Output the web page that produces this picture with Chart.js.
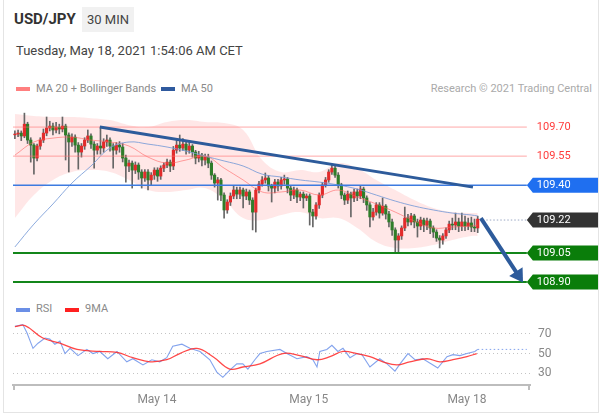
<!DOCTYPE html>
<html><head><meta charset="utf-8">
<script src="https://cdn.jsdelivr.net/npm/chart.js@4"></script>
<style>
html,body{margin:0;padding:0;background:#fff;}
body{width:603px;height:414px;position:relative;overflow:hidden;font-family:Roboto,"Liberation Sans",Arial,sans-serif;}
.card{position:absolute;left:3px;top:-1px;width:594px;height:412px;border:1px solid #e4e4e4;}
.abs{position:absolute;white-space:nowrap;line-height:1.172;}
#pair{left:14px;top:11px;font-size:15px;font-weight:bold;color:#333;}
#tf{left:82px;top:7px;width:52px;height:25px;background:#f1f1f1;font-size:13px;color:#444;line-height:25px;text-align:center;}
#date{left:16px;top:43px;font-size:13px;color:#444;}
.sw{position:absolute;height:4px;width:14px;}
.lg{font-size:11px;color:#8a8a8a;}
#main{position:absolute;left:0;top:105px;}
#rsi{position:absolute;left:0;top:300px;}
</style></head>
<body>
<div class="card"></div>
<div class="abs" id="pair">USD/JPY</div>
<div class="abs" id="tf">30 MIN</div>
<div class="abs" id="date">Tuesday, May 18, 2021 1:54:06 AM CET</div>
<div class="sw" style="left:16px;top:87px;background:#ff7f7f"></div>
<div class="abs lg" style="left:36px;top:83px">MA 20 + Bollinger Bands</div>
<div class="sw" style="left:161px;top:87px;background:#2f5a9e"></div>
<div class="abs lg" style="left:181px;top:83px">MA 50</div>
<div class="abs lg" style="right:11px;top:83px;color:#aaa">Research © 2021 Trading Central</div>
<div class="sw" style="left:16px;top:308px;background:#6b8fe6"></div>
<div class="abs lg" style="left:36px;top:303px">RSI</div>
<div class="sw" style="left:65px;top:308px;background:#ff2020"></div>
<div class="abs lg" style="left:85px;top:303px">9MA</div>
<canvas id="main" width="603" height="192"></canvas>
<canvas id="rsi" width="603" height="112"></canvas>
<script>
// ---- price candles (30 min bars, index = bar number) ----
const opens = [109.660,109.664,109.669,109.654,109.715,109.633,109.607,109.540,109.602,109.633,
 109.669,109.695,109.705,109.685,109.700,109.690,109.705,109.659,109.623,109.648,
 109.607,109.571,109.602,109.633,109.654,109.612,109.581,109.602,109.592,109.623,
 109.633,109.602,109.581,109.607,109.597,109.540,109.499,109.514,109.478,109.504,
 109.468,109.437,109.468,109.427,109.452,109.478,109.447,109.488,109.504,109.519,
 109.499,109.581,109.607,109.592,109.612,109.581,109.602,109.571,109.540,109.555,
 109.530,109.545,109.514,109.452,109.411,109.427,109.349,109.272,109.313,109.344,
 109.375,109.354,109.375,109.344,109.365,109.323,109.261,109.375,109.406,109.427,
 109.437,109.396,109.385,109.416,109.396,109.427,109.432,109.385,109.349,109.375,
 109.339,109.354,109.334,109.344,109.261,109.241,109.298,109.349,109.401,109.427,
 109.468,109.488,109.452,109.401,109.349,109.323,109.354,109.334,109.365,109.344,
 109.380,109.334,109.298,109.236,109.261,109.298,109.256,109.292,109.251,109.210,
 109.169,109.117,109.138,109.179,109.230,109.210,109.241,109.210,109.189,109.220,
 109.194,109.215,109.179,109.158,109.127,109.117,109.138,109.169,109.199,109.194,
 109.210,109.189,109.210,109.189,109.205,109.184,109.179];
const highs = [109.680,109.685,109.680,109.772,109.725,109.645,109.615,109.612,109.645,109.690,
 109.752,109.730,109.720,109.725,109.715,109.752,109.715,109.670,109.665,109.660,
 109.620,109.615,109.645,109.685,109.665,109.625,109.615,109.700,109.640,109.659,
 109.645,109.615,109.620,109.625,109.615,109.555,109.530,109.525,109.520,109.515,
 109.480,109.480,109.480,109.465,109.490,109.490,109.500,109.515,109.535,109.530,
 109.600,109.630,109.659,109.640,109.630,109.620,109.610,109.580,109.575,109.565,
 109.560,109.560,109.525,109.460,109.440,109.435,109.360,109.325,109.360,109.395,
 109.390,109.390,109.385,109.380,109.375,109.335,109.385,109.420,109.445,109.463,
 109.450,109.405,109.430,109.430,109.440,109.452,109.440,109.395,109.390,109.385,
 109.365,109.365,109.355,109.355,109.275,109.310,109.360,109.415,109.440,109.480,
 109.504,109.500,109.465,109.410,109.360,109.370,109.365,109.380,109.380,109.395,
 109.390,109.345,109.310,109.280,109.310,109.310,109.334,109.300,109.265,109.225,
 109.180,109.150,109.190,109.287,109.250,109.255,109.250,109.225,109.235,109.230,
 109.230,109.225,109.190,109.170,109.140,109.150,109.180,109.215,109.230,109.256,
 109.230,109.256,109.240,109.230,109.235,109.225,109.240];
const lows = [109.640,109.650,109.630,109.645,109.615,109.519,109.457,109.525,109.585,109.620,
 109.655,109.680,109.660,109.670,109.665,109.675,109.530,109.468,109.600,109.570,
 109.483,109.545,109.585,109.620,109.590,109.488,109.560,109.560,109.570,109.600,
 109.575,109.488,109.560,109.570,109.520,109.416,109.470,109.385,109.460,109.430,
 109.385,109.420,109.375,109.400,109.430,109.420,109.430,109.470,109.490,109.470,
 109.480,109.565,109.575,109.580,109.560,109.565,109.545,109.510,109.520,109.500,
 109.505,109.490,109.430,109.390,109.323,109.320,109.230,109.255,109.295,109.330,
 109.330,109.330,109.282,109.325,109.300,109.169,109.158,109.360,109.395,109.410,
 109.370,109.313,109.360,109.370,109.380,109.405,109.360,109.320,109.330,109.310,
 109.320,109.282,109.320,109.194,109.184,109.225,109.280,109.335,109.390,109.415,
 109.455,109.440,109.385,109.330,109.300,109.305,109.236,109.315,109.320,109.330,
 109.310,109.270,109.184,109.220,109.245,109.230,109.245,109.225,109.185,109.140,
 109.050,109.050,109.120,109.165,109.190,109.195,109.180,109.132,109.170,109.160,
 109.170,109.150,109.130,109.110,109.076,109.095,109.125,109.155,109.170,109.170,
 109.160,109.165,109.165,109.170,109.160,109.160,109.155];
const closes = [109.664,109.669,109.654,109.715,109.633,109.607,109.540,109.602,109.633,109.669,
 109.695,109.705,109.685,109.700,109.690,109.705,109.659,109.623,109.648,109.607,
 109.571,109.602,109.633,109.654,109.612,109.581,109.602,109.592,109.623,109.633,
 109.602,109.581,109.607,109.597,109.540,109.499,109.514,109.478,109.504,109.468,
 109.437,109.468,109.427,109.452,109.478,109.447,109.488,109.504,109.519,109.499,
 109.581,109.607,109.592,109.612,109.581,109.602,109.571,109.540,109.555,109.530,
 109.545,109.514,109.452,109.411,109.427,109.349,109.272,109.313,109.344,109.375,
 109.354,109.375,109.344,109.365,109.323,109.261,109.375,109.406,109.427,109.437,
 109.396,109.385,109.416,109.396,109.427,109.432,109.385,109.349,109.375,109.339,
 109.354,109.334,109.344,109.261,109.241,109.298,109.349,109.401,109.427,109.468,
 109.488,109.452,109.401,109.349,109.323,109.354,109.334,109.365,109.344,109.380,
 109.334,109.298,109.236,109.261,109.298,109.256,109.292,109.251,109.210,109.169,
 109.117,109.138,109.179,109.230,109.210,109.241,109.210,109.189,109.220,109.194,
 109.215,109.179,109.158,109.127,109.117,109.138,109.169,109.199,109.194,109.210,
 109.189,109.210,109.189,109.205,109.184,109.179,109.225];

// ---- indicators read at sampled bars ----
const bandIdx = [0,6,12,18,24,30,36,42,48,54,60,66,72,78,84,90,96,102,108,114,120,126,132,138,144,146];
const bbUpper = [109.767,109.757,109.752,109.752,109.746,109.736,109.710,109.700,109.726,109.736,109.726,109.721,109.685,
 109.530,109.468,109.478,109.468,109.514,109.488,109.427,109.375,109.323,109.282,109.261,109.256,109.256];
const ma20 = [109.555,109.623,109.643,109.648,109.633,109.623,109.602,109.545,109.514,109.530,109.550,109.488,109.427,
 109.365,109.365,109.375,109.349,109.375,109.339,109.303,109.261,109.215,109.179,109.184,109.189,109.194];
const bbLower = [109.230,109.349,109.427,109.468,109.478,109.468,109.427,109.375,109.365,109.375,109.385,109.323,109.230,
 109.220,109.246,109.261,109.230,109.230,109.179,109.107,109.076,109.076,109.091,109.117,109.138,109.138];
const ma50 = [109.081,109.199,109.303,109.411,109.499,109.592,109.623,109.612,109.597,109.576,109.550,109.525,109.499,
 109.457,109.442,109.427,109.416,109.401,109.380,109.349,109.318,109.292,109.272,109.256,109.246,109.241];

// ---- analysis levels / lines ----
const levels = [109.70, 109.55, 109.40, 109.22, 109.05, 108.90];
const trendX = [26.8, 144.5];
const trendY = [109.70, 109.39];
const arrowX = [147, 159.6];
const arrowY = [109.23, 108.915];

// ---- RSI panel ----
const rsiX = [0,2.5,3.8,5.7,7.3,9.5,11,12.6,14.2,15.8,17.4,19.9,22.7,24.6,26.8,29.3,32.2,35.3,37.2,40.4,43.2,45.7,47.9,49.8,
 52.7,55.2,58.4,61.5,63.7,65.6,67.8,70,71.9,73.5,75.7,77.3,79.5,83.6,85.8,89,92.1,94,95.3,96.2,98.4,100,101.9,103.5,105.7,
 107.9,109.5,112,115.1,117.4,119.9,121.5,124,126.2,128.7,131.9,133.4,136.3,138.2,140.4,142.6,145.1,146];
const rsiY = [77.7,79.5,71.1,55.3,60.5,65.8,64.7,59.5,62.6,50,55.3,47.9,54.2,50,52.1,44.7,52.1,41.6,44.7,38.4,43.7,41.6,45.8,57.4,
 59.5,55.3,52.1,43.7,31.1,25.8,33.2,39.5,39.5,34.2,43.7,50,52.1,54.2,50,44.7,46.8,43.7,36.3,52.1,54.2,58.4,52.1,55.3,45.8,
 50,48.9,36.3,44.7,39.5,32.1,39.5,50,43.7,44.7,38.4,35.3,46.8,48.9,47.9,50,52.1,54.2];
const maX = [0,3.2,8.8,14.2,19.6,26.8,32.2,37.2,42.6,47.9,52,57.4,62.5,67.8,71.9,77.3,84.5,89.9,95.3,99.4,103.5,107.9,112,
 116.1,120.5,124.6,130,134.1,138.2,142.6,145.7];
const maY = [77.4,78.4,65.8,60.5,54.2,52.1,51.1,45.8,41.6,43.7,50,55.3,46.8,34.2,36.3,39.5,50,47.9,43.7,46.8,52.1,50,46.8,
 41.6,38.4,41.6,44.7,41.6,43.7,46.8,50];
const rsiTicks = [30, 50, 70];
const dateTicks = [44.8, 92.7, 142.6];
const dateLabels = ['May 14', 'May 15', 'May 18'];

// ---- styling ----
const X_MIN = -0.6, X_MAX = 162.5, LINE_END = 161.5, NOW_START = 147.6;
const UP = '#e22b2b', DOWN = '#2f7d2a', WICK = '#666666', TREND = '#2d5b9b';
const levelStyle = [
  {color:'rgba(255,110,110,0.6)', width:1, dash:[], from:X_MIN, kind:'text', fill:'#ff3b3b'},
  {color:'rgba(255,110,110,0.6)', width:1, dash:[], from:X_MIN, kind:'text', fill:'#ff3b3b'},
  {color:'#3d7be0', width:1.5, dash:[], from:X_MIN, kind:'box', fill:'#1f6ff0'},
  {color:'#9aa8c4', width:1, dash:[1.5,2], from:NOW_START, kind:'box', fill:'#333333'},
  {color:'#13861a', width:2, dash:[], from:X_MIN, kind:'box', fill:'#0a7d0a'},
  {color:'#13861a', width:2, dash:[], from:X_MIN, kind:'box', fill:'#0a7d0a'}
];
const FONT = 'Roboto, "Liberation Sans", Arial, sans-serif';
const pts = (xs, ys) => xs.map((x, i) => ({x, y: ys[i]}));

const wickData = highs.map((h, i) => ({x: i, y: [lows[i], h]}));
const bodyData = closes.map((c, i) => ({x: i, y: [opens[i], c]}));
const bodyColors = closes.map((c, i) => c >= opens[i] ? UP : DOWN);

const lineBase = {type:'line', pointRadius:0, fill:false, borderCapStyle:'butt'};
const datasets = [
  Object.assign({}, lineBase, {data: pts(bandIdx, bbUpper), borderWidth:0, borderColor:'rgba(0,0,0,0)', fill:'+1', backgroundColor:'rgba(255,110,110,0.17)', tension:0.4, order:20}),
  Object.assign({}, lineBase, {data: pts(bandIdx, bbLower), borderWidth:0, borderColor:'rgba(0,0,0,0)', tension:0.4, order:21}),
  {type:'bar', data: wickData, backgroundColor: WICK, barThickness:1, grouped:false, order:12},
  {type:'bar', data: bodyData, backgroundColor: bodyColors, barThickness:2.5, grouped:false, order:11},
  Object.assign({}, lineBase, {data: pts(bandIdx, ma20), borderWidth:1, borderColor:'rgba(255,90,90,0.55)', tension:0.4, order:9}),
  Object.assign({}, lineBase, {data: pts(bandIdx, ma50), borderWidth:1, borderColor:'rgba(120,155,215,0.85)', tension:0.4, order:8})
];
levels.forEach((lv, i) => {
  const st = levelStyle[i];
  datasets.push(Object.assign({}, lineBase, {data: [{x: st.from, y: lv}, {x: LINE_END, y: lv}], borderColor: st.color, borderWidth: st.width, borderDash: st.dash, order:5}));
});
datasets.push(Object.assign({}, lineBase, {data: pts(trendX, trendY), borderColor: TREND, borderWidth:3, order:3}));
datasets.push(Object.assign({}, lineBase, {data: pts(arrowX, arrowY), borderColor: TREND, borderWidth:4, order:2}));

const overlay = {
  id: 'overlay',
  afterDatasetsDraw(chart) {
    const {ctx, scales: {x, y}} = chart;
    ctx.save();
    // arrow head
    const x1 = x.getPixelForValue(arrowX[0]), y1 = y.getPixelForValue(arrowY[0]);
    const x2 = x.getPixelForValue(arrowX[1]), y2 = y.getPixelForValue(arrowY[1]);
    const a = Math.atan2(y2 - y1, x2 - x1);
    const ux = Math.cos(a), uy = Math.sin(a);
    const tipX = x2 + ux * 4, tipY = y2 + uy * 4;
    const bx = tipX - ux * 13, by = tipY - uy * 13;
    ctx.fillStyle = TREND;
    ctx.beginPath();
    ctx.moveTo(tipX, tipY);
    ctx.lineTo(bx - uy * 8, by + ux * 8);
    ctx.lineTo(bx + uy * 8, by - ux * 8);
    ctx.closePath();
    ctx.fill();
    // level labels
    const lx = x.getPixelForValue(LINE_END);
    ctx.font = '11px ' + FONT;
    ctx.textBaseline = 'middle';
    levels.forEach((lv, i) => {
      const st = levelStyle[i];
      const py = y.getPixelForValue(lv);
      if (st.kind === 'box') {
        ctx.fillStyle = st.fill;
        ctx.beginPath();
        ctx.moveTo(lx, py);
        ctx.lineTo(lx + 6, py - 7.5);
        ctx.lineTo(598, py - 7.5);
        ctx.lineTo(598, py + 7.5);
        ctx.lineTo(lx + 6, py + 7.5);
        ctx.closePath();
        ctx.fill();
        ctx.fillStyle = '#ffffff';
      } else {
        ctx.fillStyle = st.fill;
      }
      ctx.fillText(lv.toFixed(2), lx + 10, py + 0.5);
    });
    ctx.restore();
  }
};

new Chart(document.getElementById('main'), {
  type: 'bar',
  data: {datasets},
  options: {
    responsive: false, animation: false, events: [],
    layout: {autoPadding: false, padding: {left: 13, right: 73, top: 6, bottom: 8}},
    plugins: {legend: {display: false}, tooltip: {enabled: false}},
    scales: {
      x: {type: 'linear', min: X_MIN, max: X_MAX, display: false, offset: false},
      y: {type: 'linear', min: 108.864, max: 109.783, display: false}
    }
  },
  plugins: [overlay]
});

const caps = {
  id: 'caps',
  afterDraw(chart) {
    const {ctx, chartArea} = chart;
    ctx.save();
    ctx.strokeStyle = '#bdbdbd';
    ctx.lineWidth = 2;
    [chartArea.left + 1, chartArea.right - 1].forEach(px => {
      ctx.beginPath();
      ctx.moveTo(px, chartArea.bottom);
      ctx.lineTo(px, chartArea.bottom + 5);
      ctx.stroke();
    });
    ctx.restore();
  }
};

const last = rsiX.length - 1;
new Chart(document.getElementById('rsi'), {
  type: 'line',
  data: {datasets: [
    Object.assign({}, lineBase, {data: pts(maX, maY), borderColor: 'rgba(255,40,40,0.85)', borderWidth: 1.3, tension: 0.4, order: 1}),
    Object.assign({}, lineBase, {data: pts(rsiX, rsiY), borderColor: 'rgba(100,140,232,0.8)', borderWidth: 1.1, order: 2}),
    Object.assign({}, lineBase, {data: [{x: rsiX[last], y: rsiY[last]}, {x: LINE_END, y: rsiY[last]}], borderColor: 'rgba(100,140,232,0.8)', borderWidth: 1, borderDash: [1.5, 2.5], order: 3})
  ]},
  options: {
    responsive: false, animation: false, events: [],
    layout: {autoPadding: false, padding: {left: 13, right: 0, top: 0, bottom: 0}},
    plugins: {legend: {display: false}, tooltip: {enabled: false}},
    scales: {
      x: {
        type: 'linear', min: X_MIN, max: X_MAX,
        afterBuildTicks: s => { s.ticks = dateTicks.map(v => ({value: v})); },
        afterFit: s => { s.height = 27; },
        grid: {display: false, drawTicks: false},
        border: {display: true, color: '#bdbdbd', width: 2},
        ticks: {color: '#888', font: {size: 12, family: FONT}, padding: 8, maxRotation: 0, autoSkip: false,
          callback: (v, i) => dateLabels[i]}
      },
      y: {
        type: 'linear', position: 'right', min: 18, max: 89,
        afterBuildTicks: s => { s.ticks = rsiTicks.map(v => ({value: v})); },
        afterFit: s => { s.width = 73; },
        grid: {color: '#c4c4c4', drawTicks: false, lineWidth: 1},
        border: {display: false, dash: [1, 3]},
        ticks: {color: '#888', font: {size: 12, family: FONT}, padding: 8}
      }
    }
  },
  plugins: [caps]
});
</script>
</body></html>
